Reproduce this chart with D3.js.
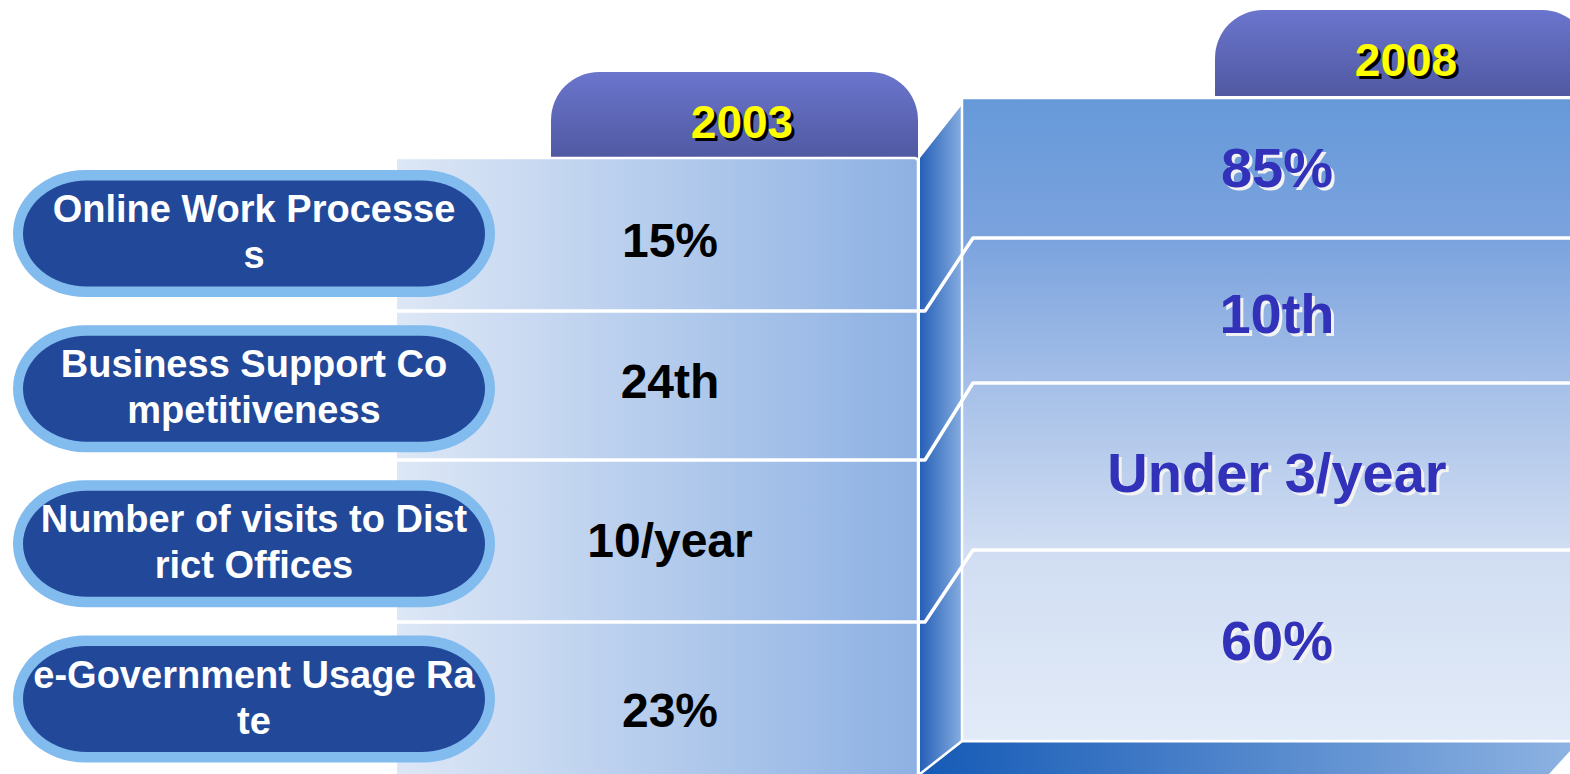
<!DOCTYPE html>
<html>
<head>
<meta charset="utf-8">
<script src="https://cdn.jsdelivr.net/npm/d3@7"></script>
<style>
  html, body { margin: 0; padding: 0; background: #fff; }
  svg { display: block; font-family: 'Liberation Sans', Arial, sans-serif; font-weight: bold; }
</style>
</head>
<body>
<svg id="chart"></svg>
<script>
const width = 1570;
const height = 774;

// data
const years = ['2003', '2008'];
const categoryLines = [
  ['Online Work Processe', 's'],
  ['Business Support Co', 'mpetitiveness'],
  ['Number of visits to Dist', 'rict Offices'],
  ['e-Government Usage Ra', 'te']
];
const values2003 = ['15%', '24th', '10/year', '23%'];
const values2008 = ['85%', '10th', 'Under 3/year', '60%'];

const idx = d3.range(categoryLines.length);

// row edges of the two panels (piecewise scales over row index)
const leftRow = d3.scaleLinear().domain([0, 1, 2, 3, 4]).range([158, 311, 460, 622, 776]);
const rightRow = d3.scaleLinear().domain([0, 1, 2, 3, 4]).range([98, 238, 383, 550, 741]);
// text centers
const leftTextY = d3.scaleLinear().domain([0, 1, 2, 3]).range([239.5, 381, 540, 710]);
const rightTextY = d3.scaleLinear().domain([0, 1, 2, 3]).range([167, 313, 472, 640]);
const pillY = d3.scaleLinear().domain([0, 3]).range([233.5, 699]);

const svg = d3.select('#chart')
  .attr('width', width)
  .attr('height', height)
  .attr('viewBox', [0, 0, width, height]);

const defs = svg.append('defs');

function grad(id, x2, y2, stops) {
  const g = defs.append('linearGradient').attr('id', id)
    .attr('x1', 0).attr('y1', 0).attr('x2', x2).attr('y2', y2);
  stops.forEach(([o, c]) => g.append('stop').attr('offset', o).attr('stop-color', c));
}
grad('tab', 0, 1, [[0, '#6b75cd'], [1, '#5059a2']]);
grad('leftRow', 1, 0, [[0, '#dde7f6'], [1, '#8db1e3']]);
grad('side', 1, 0, [[0, '#2560b8'], [1, '#84abdf']]);
grad('bottom', 1, 0, [[0, '#155ab6'], [1, '#8db2e2']]);
defs.append('linearGradient').attr('id', 'rightPanel')
  .attr('gradientUnits', 'userSpaceOnUse')
  .attr('x1', 0).attr('y1', rightRow(0)).attr('x2', 0).attr('y2', rightRow(4))
  .call(g => [[0, '#6699d9'], [0.22, '#7ba3de'], [0.45, '#a6c0e8'], [0.7, '#d0ddf2'], [1, '#e2ebf8']]
    .forEach(([o, c]) => g.append('stop').attr('offset', o).attr('stop-color', c)));

// tab with rounded top corners
function tabPath(x0, x1, y0, y1, r) {
  const p = d3.path();
  p.moveTo(x0, y1);
  p.lineTo(x0, y0 + r);
  p.arcTo(x0, y0, x0 + r, y0, r);
  p.lineTo(x1 - r, y0);
  p.arcTo(x1, y0, x1, y0 + r, r);
  p.lineTo(x1, y1);
  p.closePath();
  return p.toString();
}

svg.append('path').attr('d', tabPath(551, 918, 72, 158, 48)).attr('fill', 'url(#tab)');
svg.append('path').attr('d', tabPath(1215, 1590, 10, 96, 48)).attr('fill', 'url(#tab)');

// left panel rows
svg.append('g').selectAll('rect')
  .data(idx)
  .join('rect')
  .attr('x', 397)
  .attr('y', d => leftRow(d))
  .attr('width', 918 - 397)
  .attr('height', d => leftRow(d + 1) - leftRow(d))
  .attr('fill', 'url(#leftRow)');
svg.append('path')
  .attr('d', `M397,${leftRow(0)}H914Q918,${leftRow(0)} 918,${leftRow(0) + 4}V${height}`)
  .attr('fill', 'none').attr('stroke', '#fff').attr('stroke-width', 2.5);

// side face
svg.append('path')
  .attr('d', `M920,${leftRow(0)}L961,${rightRow(0) + 8}V${rightRow(4)}L920,${height}Z`)
  .attr('fill', 'url(#side)');

// right panel
svg.append('rect')
  .attr('x', 962).attr('y', rightRow(0))
  .attr('width', width - 962 + 10).attr('height', rightRow(4) - rightRow(0))
  .attr('fill', 'url(#rightPanel)')
  .attr('stroke', '#fff').attr('stroke-width', 2.5);

// bottom face
svg.append('path')
  .attr('d', `M962,${rightRow(4) + 1.5}H${width}V${rightRow(4) + 10}L1549,${height}H921Z`)
  .attr('fill', 'url(#bottom)');
svg.append('path')
  .attr('d', `M962,${rightRow(4)}L920,${height}`)
  .attr('stroke', '#fff').attr('stroke-width', 2.5);

// connector lines
svg.append('g').selectAll('path')
  .data([1, 2, 3])
  .join('path')
  .attr('d', d => `M397,${leftRow(d)}H925L973,${rightRow(d)}H${width}`)
  .attr('fill', 'none')
  .attr('stroke', '#fff')
  .attr('stroke-width', 3.5)
  .attr('stroke-linejoin', 'round');

// category pills
const pills = svg.append('g').selectAll('g')
  .data(idx)
  .join('g')
  .attr('transform', d => `translate(0,${pillY(d)})`);
pills.append('rect')
  .attr('x', 13).attr('y', -63.5).attr('width', 482).attr('height', 127)
  .attr('rx', 72).attr('ry', 63.5)
  .attr('fill', '#82bbee');
pills.append('rect')
  .attr('x', 23).attr('y', -53).attr('width', 462).attr('height', 106)
  .attr('rx', 64).attr('ry', 53)
  .attr('fill', '#22489a');
pills.append('text')
  .attr('text-anchor', 'middle')
  .attr('fill', '#fff')
  .attr('font-size', 38)
  .selectAll('tspan')
  .data(d => categoryLines[d])
  .join('tspan')
  .attr('x', 254)
  .attr('y', (d, i) => (i === 0 ? -11.5 : 34.5))
  .text(d => d);

// year headers
const headerPos = [[742, 121], [1406, 59]];
years.forEach((y, i) => {
  const [hx, hy] = headerPos[i];
  [['#000', 3], ['#ffff00', 0]].forEach(([c, o]) => {
    svg.append('text')
      .attr('x', hx + o).attr('y', hy + 16.5 + o)
      .attr('text-anchor', 'middle')
      .attr('font-size', 46)
      .attr('fill', c)
      .text(y);
  });
});

// 2003 values
svg.append('g').selectAll('text')
  .data(values2003)
  .join('text')
  .attr('x', 670)
  .attr('y', (d, i) => leftTextY(i) + 17.2)
  .attr('text-anchor', 'middle')
  .attr('font-size', 48)
  .attr('fill', '#000')
  .text(d => d);

// 2008 values with light shadow
[['#f2f2f2', 3], ['#3131b9', 0]].forEach(([c, o]) => {
  svg.append('g').selectAll('text')
    .data(values2008)
    .join('text')
    .attr('x', 1277 + o)
    .attr('y', (d, i) => rightTextY(i) + 20 + o)
    .attr('text-anchor', 'middle')
    .attr('font-size', 56)
    .attr('fill', c)
    .text(d => d);
});
</script>
</body>
</html>
